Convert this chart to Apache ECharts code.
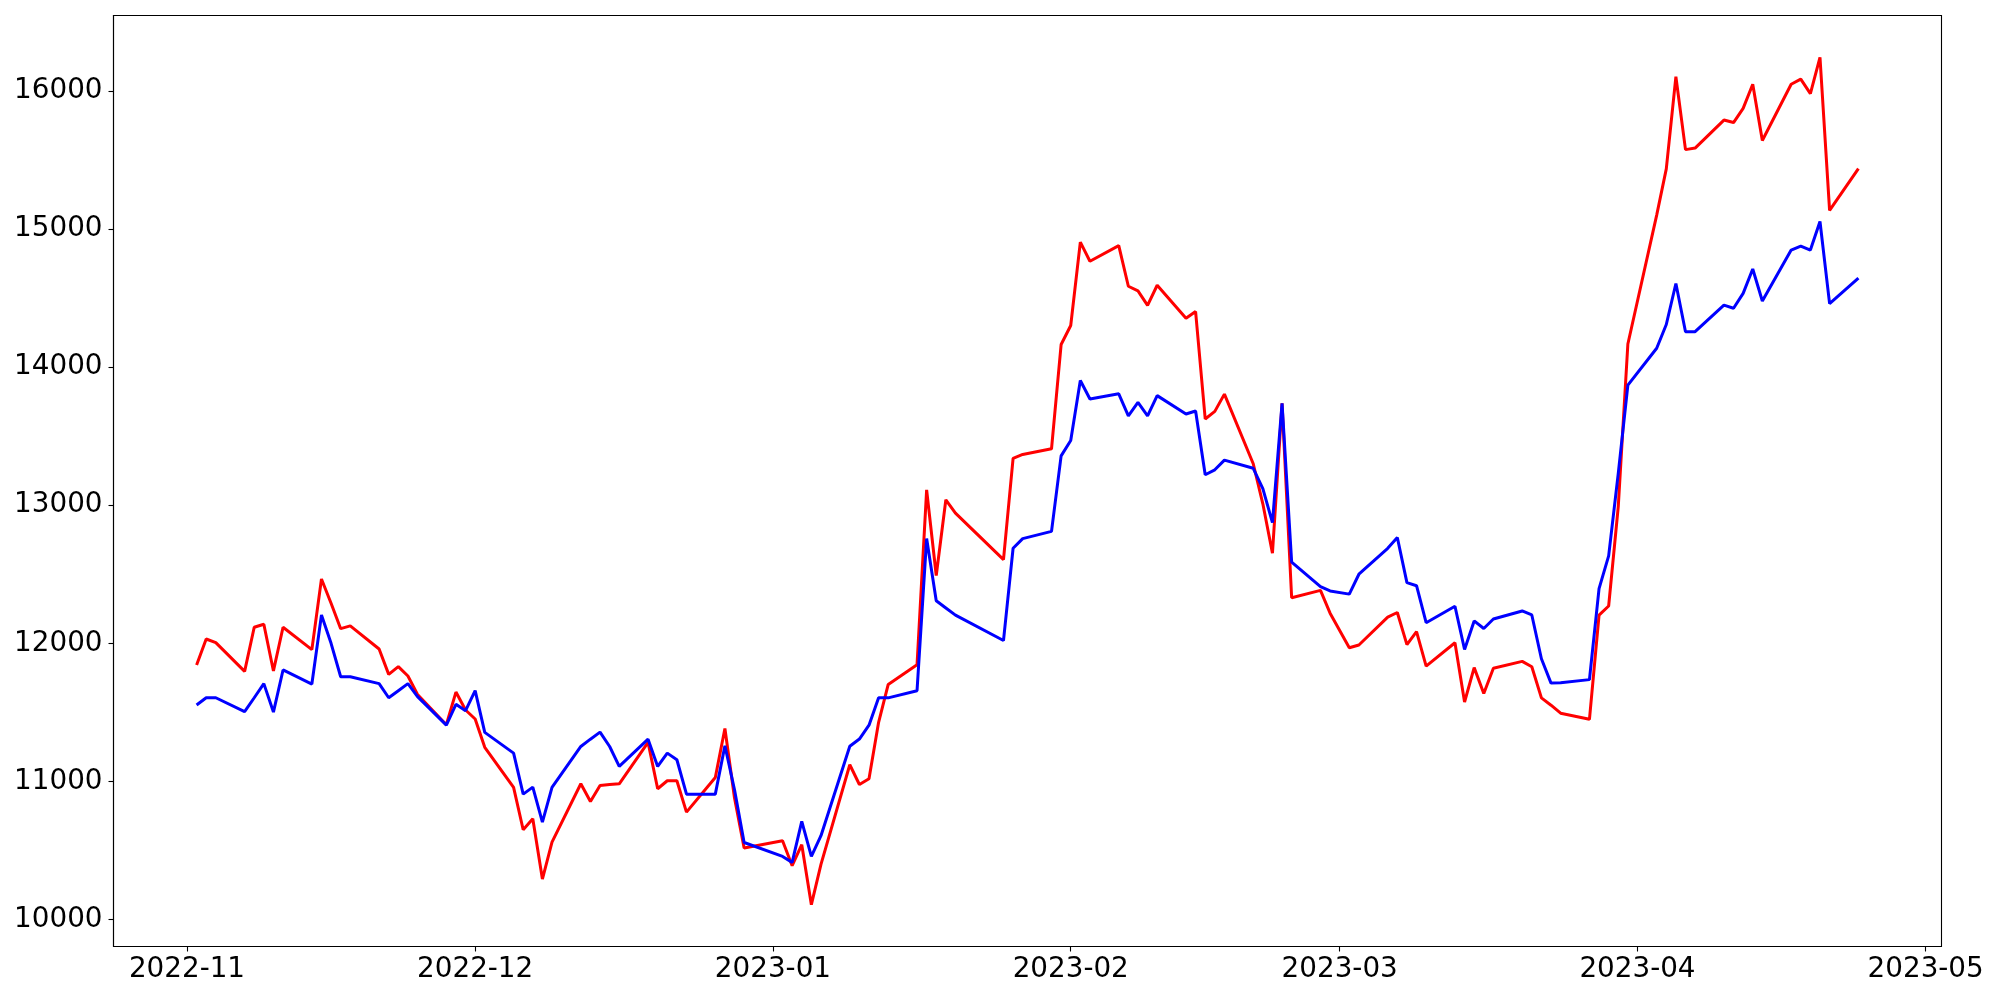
<!DOCTYPE html>
<html>
<head>
<meta charset="utf-8">
<title>chart</title>
<script src="https://cdn.jsdelivr.net/npm/echarts@6/dist/echarts.min.js"></script>
<style>
  html, body { margin: 0; padding: 0; background: #fff; }
  #chart { width: 2000px; height: 1000px; }
</style>
</head>
<body>
<div id="chart"></div>
<script>
// trading days (weekends and market holidays are skipped)
var dates = [
  "2022-11-02", "2022-11-03", "2022-11-04", "2022-11-07", "2022-11-08", "2022-11-09", "2022-11-10",
  "2022-11-11", "2022-11-14", "2022-11-15", "2022-11-16", "2022-11-17", "2022-11-18", "2022-11-21",
  "2022-11-22", "2022-11-23", "2022-11-24", "2022-11-25", "2022-11-28", "2022-11-29", "2022-11-30",
  "2022-12-01", "2022-12-02", "2022-12-05", "2022-12-06", "2022-12-07", "2022-12-08", "2022-12-09",
  "2022-12-12", "2022-12-13", "2022-12-14", "2022-12-15", "2022-12-16", "2022-12-19", "2022-12-20",
  "2022-12-21", "2022-12-22", "2022-12-23", "2022-12-26", "2022-12-27", "2022-12-28", "2022-12-29",
  "2023-01-02", "2023-01-03", "2023-01-04", "2023-01-05", "2023-01-06", "2023-01-09", "2023-01-10",
  "2023-01-11", "2023-01-12", "2023-01-13", "2023-01-16", "2023-01-17", "2023-01-18", "2023-01-19",
  "2023-01-20", "2023-01-25", "2023-01-26", "2023-01-27", "2023-01-30", "2023-01-31",
  "2023-02-01", "2023-02-02", "2023-02-03", "2023-02-06", "2023-02-07", "2023-02-08", "2023-02-09",
  "2023-02-10", "2023-02-13", "2023-02-14", "2023-02-15", "2023-02-16", "2023-02-17", "2023-02-20",
  "2023-02-21", "2023-02-22", "2023-02-23", "2023-02-24", "2023-02-27", "2023-02-28",
  "2023-03-02", "2023-03-03", "2023-03-06", "2023-03-07", "2023-03-08", "2023-03-09", "2023-03-10",
  "2023-03-13", "2023-03-14", "2023-03-15", "2023-03-16", "2023-03-17", "2023-03-20", "2023-03-21",
  "2023-03-22", "2023-03-23", "2023-03-24", "2023-03-27", "2023-03-28", "2023-03-29", "2023-03-30",
  "2023-03-31",
  "2023-04-03", "2023-04-04", "2023-04-05", "2023-04-06", "2023-04-07", "2023-04-10", "2023-04-11",
  "2023-04-12", "2023-04-13", "2023-04-14", "2023-04-17", "2023-04-18", "2023-04-19", "2023-04-20",
  "2023-04-21", "2023-04-24"
];

var redValues = [
  11843, 12031, 12005, 11797, 12116, 12138, 11800, 12116, 11954, 12466, 12290, 12106, 12126, 11959,
  11775, 11831, 11763, 11630, 11411, 11647, 11517,
  11452, 11247, 10957, 10650, 10730, 10293, 10561, 10983, 10855, 10971, 10977, 10983, 11282, 10947,
  11005, 11005, 10778, 11029, 11383, 10880, 10518,
  10571, 10390, 10542, 10108, 10400, 11121, 10978, 11020, 11428, 11702, 11844, 13111, 12491, 13039,
  12942, 12606, 13339, 13367, 13408, 14163,
  14301, 14904, 14766, 14879, 14585, 14551, 14447, 14592, 14353, 14402, 13624, 13679, 13804, 13300,
  13010, 12652, 13737, 12330, 12383, 12218,
  11968, 11988, 12189, 12223, 11990, 12084, 11835, 12004, 11575, 11824, 11636, 11819, 11869, 11830,
  11605, 11552, 11494, 11450, 12204, 12270, 12990, 14167,
  15100, 15435, 16102, 15574, 15585, 15788, 15770, 15873, 16047, 15640, 16047, 16084, 15980, 16242,
  15134, 15437
];

var blueValues = [
  11553, 11606, 11606, 11505, 11606, 11708, 11502, 11807, 11705, 12205, 12000, 11758, 11758, 11708,
  11606, 11657, 11708, 11614, 11408, 11558, 11512,
  11657, 11355, 11205, 10908, 10959, 10706, 10957, 11253, 11306, 11357, 11253, 11109, 11306, 11109,
  11205, 11157, 10908, 10908, 11258, 10940, 10558,
  10457, 10414, 10711, 10457, 10607, 11255, 11307, 11407, 11605, 11605, 11657, 12758, 12308, 12256,
  12204, 12020, 12688, 12758, 12810, 13357,
  13468, 13903, 13769, 13806, 13647, 13744, 13647, 13793, 13660, 13682, 13220, 13256, 13326, 13267,
  13120, 12873, 13737, 12588, 12410, 12379,
  12356, 12500, 12688, 12766, 12439, 12417, 12149, 12268, 11955, 12162, 12107, 12176, 12234, 12205,
  11888, 11712, 11714, 11737, 12396, 12633, 13230, 13869,
  14136, 14308, 14605, 14256, 14256, 14448, 14426, 14533, 14710, 14478, 14847, 14876, 14847, 15054,
  14459, 14644
];

var monthTicks = ["2022-11-01", "2022-12-01", "2023-01-01", "2023-02-01", "2023-03-01", "2023-04-01", "2023-05-01"];
var yTicks = [10000, 11000, 12000, 13000, 14000, 15000, 16000];

function toTime(s) {
  var p = s.split("-");
  return new Date(+p[0], +p[1] - 1, +p[2]).getTime();
}

var first = toTime(dates[0]);
var last = toTime(dates[dates.length - 1]);
var pad = (last - first) * 0.05;

var redData = dates.map(function (d, i) { return [toTime(d), redValues[i]]; });
var blueData = dates.map(function (d, i) { return [toTime(d), blueValues[i]]; });
var monthTimes = monthTicks.map(toTime);

var font = "DejaVu Sans";

var option = {
  animation: false,
  backgroundColor: "#fff",
  grid: {
    left: 113.5,
    right: 58.5,
    top: 15.5,
    bottom: 53.5,
    show: true,
    borderColor: "#000",
    borderWidth: 1.1,
    backgroundColor: "transparent"
  },
  xAxis: {
    // dates kept as timestamps on a value axis so month ticks can be placed exactly
    type: "value",
    min: first - pad,
    max: last + pad,
    splitLine: { show: false },
    axisLine: { show: true, onZero: false, lineStyle: { color: "#000", width: 1.1 } },
    axisTick: {
      show: true,
      length: 5,
      lineStyle: { color: "#000", width: 1.1 },
      customValues: monthTimes
    },
    axisLabel: {
      color: "#000",
      fontFamily: font,
      fontSize: 27.8,
      margin: 9,
      customValues: monthTimes,
      formatter: function (v) {
        var d = new Date(v);
        var m = d.getMonth() + 1;
        return d.getFullYear() + "-" + (m < 10 ? "0" + m : m);
      }
    }
  },
  yAxis: {
    type: "value",
    min: 9805,
    max: 16545,
    splitLine: { show: false },
    axisLine: { show: true, onZero: false, lineStyle: { color: "#000", width: 1.1 } },
    axisTick: {
      show: true,
      length: 5,
      lineStyle: { color: "#000", width: 1.1 },
      customValues: yTicks
    },
    axisLabel: {
      color: "#000",
      fontFamily: font,
      fontSize: 27.8,
      margin: 11,
      customValues: yTicks,
      formatter: function (v) { return String(v); }
    }
  },
  series: [
    {
      name: "red",
      type: "line",
      data: redData,
      showSymbol: false,
      lineStyle: { color: "#ff0000", width: 3 },
      itemStyle: { color: "#ff0000" }
    },
    {
      name: "blue",
      type: "line",
      data: blueData,
      showSymbol: false,
      lineStyle: { color: "#0000ff", width: 3 },
      itemStyle: { color: "#0000ff" }
    }
  ]
};

var chart = echarts.init(document.getElementById("chart"));
chart.setOption(option);
</script>
</body>
</html>
